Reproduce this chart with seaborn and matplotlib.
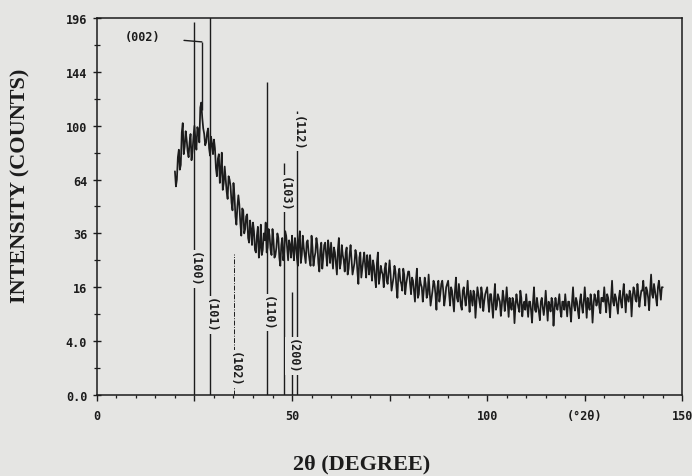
import numpy as np
import pandas as pd
import matplotlib
matplotlib.use('Agg')
import matplotlib.pyplot as plt
import seaborn as sns

# --- data ---
# counts at 20.0, 20.5, ... 145.0 deg
step = 0.5
intensity = [
    69, 64, 83, 73, 102, 85, 90, 78, 94, 82,
    100, 83, 96, 114, 106, 94, 88, 98, 79, 87,
    90, 71, 77, 62, 81, 62, 64, 53, 64, 51,
    62, 44, 49, 50, 35, 47, 38, 45, 32, 38,
    41, 29, 35, 26, 40, 29, 33, 28, 38, 29,
    38, 26, 30, 34, 23, 34, 28, 35, 25, 31,
    35, 25, 31, 23, 37, 27, 30, 24, 33, 25,
    35, 23, 28, 31, 21, 32, 26, 32, 23, 29,
    32, 22, 28, 20, 34, 24, 27, 21, 30, 22,
    31, 20, 24, 27, 17, 28, 22, 28, 19, 24,
    27, 18, 23, 16, 28, 19, 21, 16, 24, 17,
    25, 15, 19, 21, 13, 22, 17, 22, 14, 19,
    21, 14, 18, 12, 22, 14, 17, 12, 19, 13,
    20, 11, 15, 17, 10, 18, 14, 18, 11, 16,
    18, 11, 15, 9.6, 19, 12, 14, 10, 16, 11,
    18, 9.5, 13, 15, 8.2, 16, 12, 16, 9.7, 14,
    16, 9.5, 14, 8.2, 17, 11, 13, 8.6, 15, 9.7,
    16, 8.4, 11, 13, 7.1, 14, 10.5, 15, 8.5, 12,
    14, 8.4, 12, 7.2, 16, 9.5, 11, 7.7, 13, 8.8,
    15, 7.6, 11, 13, 6.6, 13, 10, 14, 8.4, 12,
    14, 8.5, 12, 7.4, 16, 9.8, 12, 8.1, 14, 9.3,
    16, 8.2, 11, 14, 7.2, 14, 11, 15, 9.2, 13,
    16, 9.4, 13, 8.3, 18, 11, 13, 9.1, 15, 10.5,
    17, 9.4, 13, 15, 8.5, 16, 12.5, 17, 10.7, 15,
    18, 11, 15, 9.9, 20, 13, 15, 11, 18, 12.5,
    16,
]
# counts at the in-between steps 20.25, 20.75, ... 144.75 deg
intensity_mid = [
    60, 78, 70, 95, 80, 96, 82, 88, 76, 92,
    90, 99, 88, 118, 98, 86, 95, 84, 92, 80,
    84, 66, 80, 70, 58, 72, 57, 66, 60, 47,
    55, 40, 55, 41, 48, 36, 44, 34, 42, 31,
    37, 28, 39, 30, 27, 36, 41, 30, 35, 27,
    33, 27, 36, 26, 31, 25, 37, 30, 33, 26,
    29, 34, 26, 33, 24, 35, 27, 32, 28, 23,
    30, 26, 34, 24, 29, 22, 31, 27, 33, 24,
    27, 30, 24, 29, 22, 31, 25, 28, 20, 27,
    25, 22, 29, 21, 26, 19, 25, 23, 27, 20,
    22, 25, 19, 24, 17, 23, 20, 22, 18, 21,
    20, 17, 23, 16, 20, 18, 15, 20, 17, 21,
    17, 19, 15, 18, 13, 19, 16, 15, 17, 14,
    15, 13, 18, 14, 16, 12, 17, 15, 13, 17,
    14, 16, 12, 15, 13, 17, 11, 15, 13, 14,
    13, 15, 11, 14, 12, 14, 10.5, 14, 12, 15,
    12, 14, 11, 13, 10, 14, 12, 11, 13, 12,
    12, 13, 10, 12, 11, 12, 9.5, 13, 11, 10,
    11, 12, 9.8, 12, 10, 13, 9.5, 12, 10.5, 11,
    11, 12, 9.6, 12, 10, 11, 12, 9.8, 12, 10,
    11, 12, 10, 12, 11, 13, 9.8, 12, 11, 12,
    12, 13, 10, 12, 11, 13, 12, 10.5, 13, 12,
    12, 14, 11, 13, 12, 14, 11, 13, 12, 14,
    13, 14, 12, 14, 13, 15, 12, 14, 13, 15,
    14, 16, 13, 15, 14, 17, 13, 16, 15, 16,
]

# reference peak markers (hkl)
peak_labels = ['(100)', '(101)', '(102)', '(110)', '(103)', '(200)', '(112)']
peak_pos = [24.9, 29.0, 35.2, 43.7, 47.9, 50.0, 51.3]
peak_top = [192, 200, 27.5, 135, 74, 14.5, 111]
label_at = [21.9, 8.8, 0.93, 9.3, 56, 2.1, 95]
dashed = [False, False, True, False, False, False, False]

# (002) marker: short line above the broad hump
p002_pos = 26.9
p002_bottom = 112
p002_top = 172
p002_text = (11.6, 177)

y_ticks = [0, 4, 16, 36, 64, 100, 144, 196]
y_ticklabels = ['0.0', '4.0', '16', '36', '64', '100', '144', '196']
y_minor = [1, 9, 25, 49, 81, 121, 169]
x_ticks = [0, 25, 50, 75, 100, 125, 150]
x_ticklabels = ['0', '', '50', '', '100', '(\u00b02\u03b8)', '150']

df = pd.concat([
    pd.DataFrame({'two_theta': 20.0 + step * np.arange(len(intensity)), 'counts': intensity}),
    pd.DataFrame({'two_theta': 20.25 + step * np.arange(len(intensity_mid)), 'counts': intensity_mid}),
]).sort_values('two_theta')

# --- plot ---
sns.set_style('ticks')
bg = '#e5e5e3'
ink = '#1c1c1c'
plt.rcParams['font.family'] = ['DejaVu Sans Mono']

fig = plt.figure(figsize=(6.92, 4.77), dpi=100, facecolor=bg)
ax = fig.add_axes([0.140, 0.170, 0.846, 0.790], facecolor=bg)

ax.set_yscale('function', functions=(lambda v: np.sqrt(np.clip(v, 0, None)), np.square))

sns.lineplot(data=df, x='two_theta', y='counts', ax=ax, color=ink,
             linewidth=1.25, estimator=None, sort=True)

for lab, xp, top, ly, dsh in zip(peak_labels, peak_pos, peak_top, label_at, dashed):
    ls = (0, (5, 1.5, 1, 1.5)) if dsh else '-'
    lw = 0.7 if dsh else 1.0
    ax.vlines(xp, 0, top, color=ink, linewidth=lw, linestyle=ls)
    ax.text(xp, ly, lab, rotation=270, ha='center', va='center', fontsize=8.5,
            fontweight='bold', color=ink,
            bbox=dict(facecolor=bg, edgecolor='none', pad=0.6))

ax.vlines(p002_pos, p002_bottom, p002_top, color=ink, linewidth=1.0)
ax.annotate('(002)', xy=(p002_pos, p002_top), xytext=p002_text, ha='center',
            va='center', fontsize=8.5, fontweight='bold', color=ink,
            arrowprops=dict(arrowstyle='-', color=ink, linewidth=1.0,
                            shrinkA=15, shrinkB=0))

ax.set_xlim(0, 150)
ax.set_ylim(0, 196)
ax.set_xticks(x_ticks)
ax.set_xticklabels(x_ticklabels)
ax.set_xticks(np.arange(0, 151, 5), minor=True)
ax.set_yticks(y_ticks)
ax.set_yticklabels(y_ticklabels)
ax.set_yticks(y_minor, minor=True)

ax.tick_params(axis='x', which='major', direction='out', length=4, width=1.0,
               colors=ink, labelsize=8.5, pad=6)
ax.tick_params(axis='x', which='minor', direction='out', length=2.5, width=0.9,
               colors=ink)
ax.tick_params(axis='y', which='major', direction='inout', length=6, width=1.0,
               colors=ink, labelsize=8.5, pad=4)
ax.tick_params(axis='y', which='minor', direction='inout', length=4, width=0.9,
               colors=ink)
for lbl in ax.get_xticklabels() + ax.get_yticklabels():
    lbl.set_fontweight('bold')

for side in ['top', 'right', 'bottom', 'left']:
    ax.spines[side].set_visible(True)
    ax.spines[side].set_color(ink)
    ax.spines[side].set_linewidth(1.1)

serif = ['Liberation Serif', 'DejaVu Serif']
ax.set_xlabel('2\u03b8 (DEGREE)', family=serif, fontweight='bold', fontsize=16,
              color=ink, ha='center', va='center')
ax.set_ylabel('INTENSITY (COUNTS)', family=serif, fontweight='bold', fontsize=16,
              color=ink, ha='center', va='center')
ax.xaxis.set_label_coords(0.453, -0.183)
ax.yaxis.set_label_coords(-0.131, 0.557)

plt.savefig('out.png', dpi=100, facecolor=bg)
